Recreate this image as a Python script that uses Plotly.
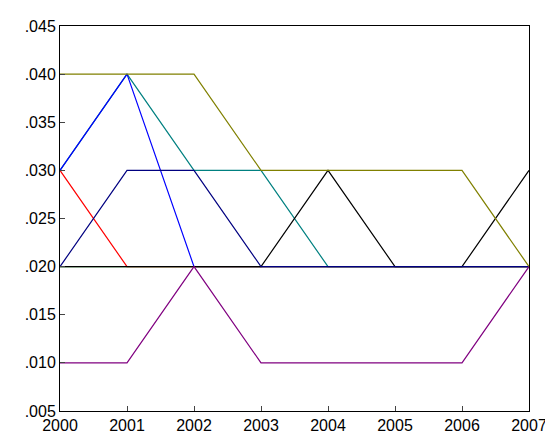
import plotly.graph_objs as go

years = [2000, 2001, 2002, 2003, 2004, 2005, 2006, 2007]
teal = [.030, .040, .030, .030, .020, .020, .020, .020]
blue = [.030, .040, .020, .020, .020, .020, .020, .020]
red = [.030, .020, .020, .020, .020, .020, .020, .020]
green = [.020, .020, .020, .020, .020, .020, .020, .020]
navy = [.020, .030, .030, .020, .020, .020, .020, .020]
black = [.020, .020, .020, .020, .030, .020, .020, .030]
olive = [.040, .040, .040, .030, .030, .030, .030, .020]
purple = [.010, .010, .020, .010, .010, .010, .010, .020]

series = [(teal, '#008080'), (blue, '#0000ff'), (red, '#ff0000'), (green, '#008000'),
          (black, '#000000'), (navy, '#000080'), (olive, '#808000'), (purple, '#800080')]

fig = go.Figure()
for ys, c in series:
    fig.add_trace(go.Scatter(x=years, y=ys, mode='lines', line=dict(color=c, width=1.2), showlegend=False))

yt = [.005, .010, .015, .020, .025, .030, .035, .040, .045]
fig.update_layout(width=553, height=445, margin=dict(l=52, r=32, t=10, b=42),
                  plot_bgcolor='white', paper_bgcolor='white',
                  font=dict(family='Arial, Liberation Sans', size=16, color='black'))
fig.update_xaxes(range=[2000, 2007], tickvals=years, ticks='inside', ticklen=5,
                 showline=True, linecolor='black', mirror=True, showgrid=False, zeroline=False)
fig.update_yaxes(range=[.005, .045], tickvals=yt, ticktext=[('%.3f' % v)[1:] for v in yt],
                 ticks='inside', ticklen=5, showline=True, linecolor='black', mirror=True,
                 showgrid=False, zeroline=False)
fig.write_html("out.html")
